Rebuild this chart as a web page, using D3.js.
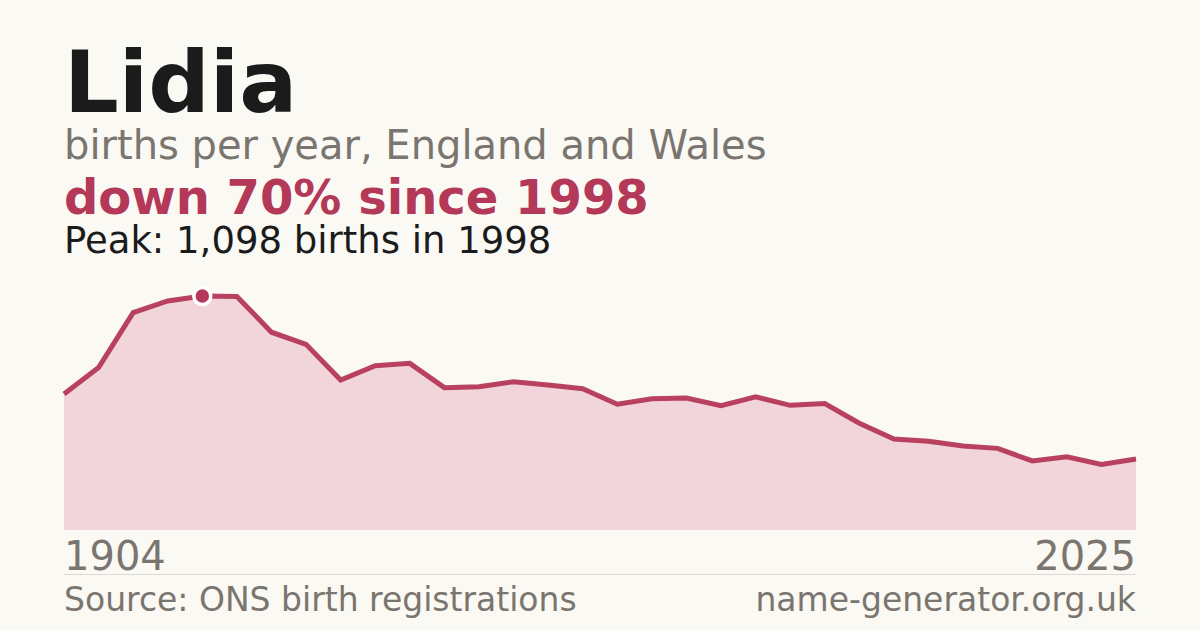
<!DOCTYPE html>
<html>
<head>
<meta charset="utf-8">
<script src="https://cdn.jsdelivr.net/npm/d3@7"></script>
<style>
  html, body { margin: 0; padding: 0; background: #faf9f4; }
  svg { display: block; font-family: "DejaVu Sans", sans-serif; }
</style>
</head>
<body>
<svg id="chart" width="1200" height="630"></svg>
<script>
// births per year for "Lidia"
var years = [1994, 1995, 1996, 1997, 1998, 1999, 2000, 2001, 2002, 2003, 2004,
  2005, 2006, 2007, 2008, 2009, 2010, 2011, 2012, 2013, 2014, 2015, 2016,
  2017, 2018, 2019, 2020, 2021, 2022, 2023, 2024, 2025];
var births = [638, 762, 1020, 1075, 1098, 1096, 928, 871, 704, 771, 782,
  668, 672, 696, 680, 663, 590, 616, 619, 583, 625, 585, 593,
  501, 427, 416, 394, 383, 324, 344, 308, 333];
var axisLabels = ["1904", "2025"];
var peakYear = 1998, peakValue = 1098;

var W = 1200, H = 630,
    plotLeft = 64, plotRight = 1136, plotTop = 296, plotBottom = 530;

var red = "#b43857", grey = "#7a756e", ink = "#1b1b1b";

var svg = d3.select("#chart");
svg.append("rect").attr("width", W).attr("height", H).attr("fill", "#faf9f4");

var x = d3.scaleLinear().domain(d3.extent(years)).range([plotLeft, plotRight]);
var y = d3.scaleLinear().domain([0, peakValue]).range([plotBottom, plotTop]);

var rows = years.map((yr, i) => ({year: yr, value: births[i]}));

// header
svg.append("text").attr("x", plotLeft).attr("y", 112)
  .attr("font-size", 86).attr("font-weight", "bold").attr("fill", ink)
  .text("Lidia");
svg.append("text").attr("x", plotLeft).attr("y", 159)
  .attr("font-size", 40).attr("fill", grey)
  .text("births per year, England and Wales");

var lastVal = births[births.length - 1];
var drop = Math.round((1 - lastVal / peakValue) * 100);
svg.append("text").attr("x", plotLeft).attr("y", 214)
  .attr("font-size", 48).attr("font-weight", "bold").attr("fill", red)
  .text("down " + drop + "% since " + peakYear);
svg.append("text").attr("x", plotLeft).attr("y", 253)
  .attr("font-size", 37).attr("fill", ink)
  .text("Peak: " + d3.format(",")(peakValue) + " births in " + peakYear);

// area + line
var area = d3.area().x(d => x(d.year)).y0(plotBottom).y1(d => y(d.value));
var line = d3.line().x(d => x(d.year)).y(d => y(d.value));

svg.append("path").datum(rows).attr("d", area).attr("fill", "#f1d5db");
svg.append("path").datum(rows).attr("d", line)
  .attr("fill", "none").attr("stroke", red).attr("stroke-width", 5)
  .attr("stroke-linejoin", "miter").attr("stroke-opacity", 0.95);

svg.append("circle").attr("cx", x(peakYear)).attr("cy", y(peakValue)).attr("r", 8.5)
  .attr("fill", red).attr("stroke", "#ffffff").attr("stroke-width", 3.5);

// year labels
svg.append("text").attr("x", plotLeft).attr("y", 570)
  .attr("font-size", 40).attr("fill", grey).text(axisLabels[0]);
svg.append("text").attr("x", plotRight).attr("y", 570).attr("text-anchor", "end")
  .attr("font-size", 40).attr("fill", grey).text(axisLabels[1]);

svg.append("line").attr("x1", plotLeft).attr("x2", plotRight).attr("y1", 574.5).attr("y2", 574.5)
  .attr("stroke", "#dedad3").attr("stroke-width", 1);

// footer
svg.append("text").attr("x", plotLeft).attr("y", 611)
  .attr("font-size", 33).attr("fill", grey).text("Source: ONS birth registrations");
svg.append("text").attr("x", plotRight).attr("y", 611).attr("text-anchor", "end")
  .attr("font-size", 33).attr("fill", grey).text("name-generator.org.uk");
</script>
</body>
</html>
